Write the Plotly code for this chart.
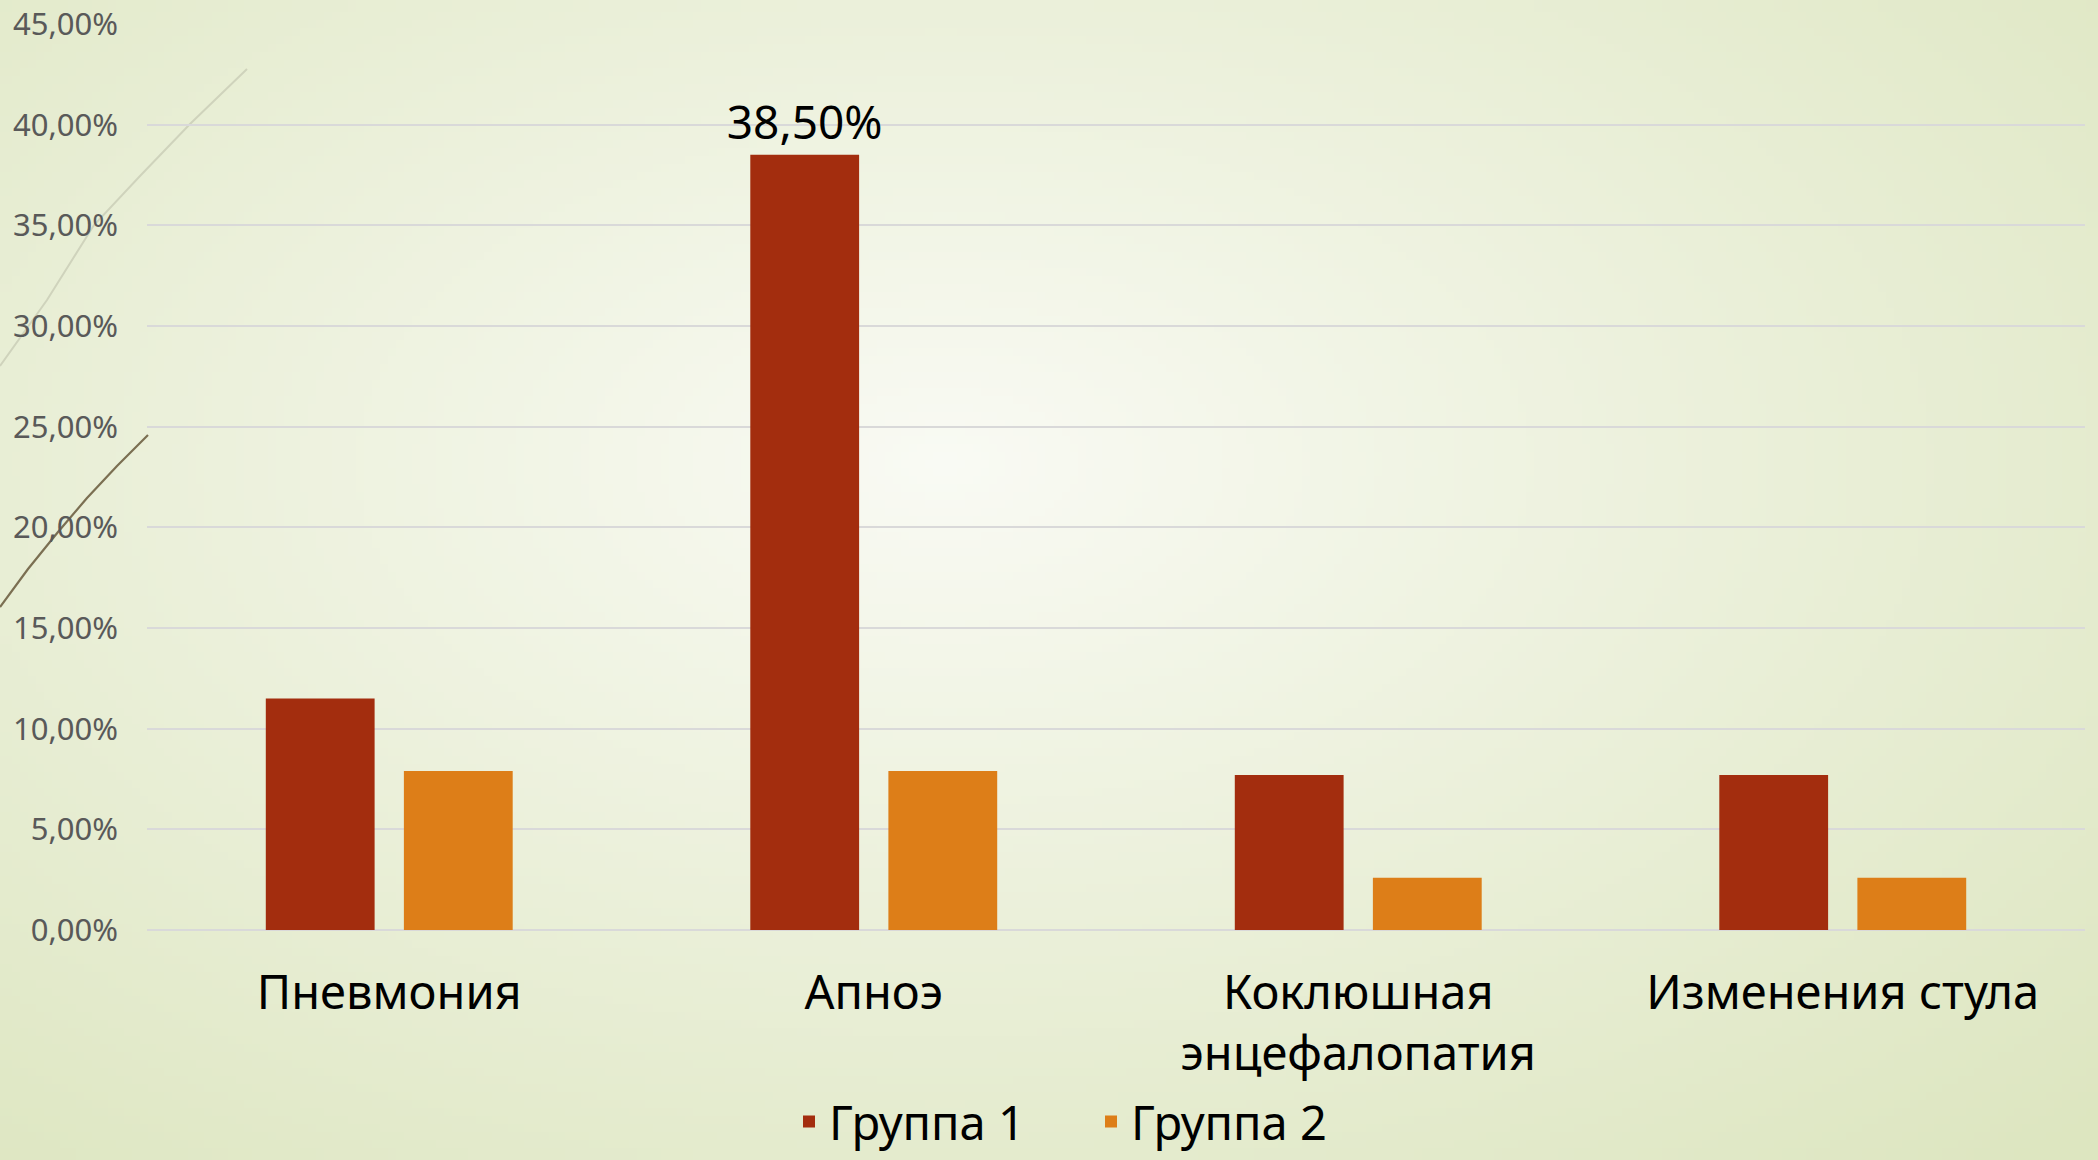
import base64
import struct
import zlib

import numpy as np
import plotly.graph_objects as go

# ---------------- data ----------------
categories = ["Пневмония", "Апноэ", "Коклюшная<br>энцефалопатия", "Изменения стула"]
group1_name = "Группа 1"
group2_name = "Группа 2"
group1 = [0.115, 0.385, 0.077, 0.077]
group2 = [0.079, 0.079, 0.026, 0.026]
label_flags = [False, True, False, False]   # which Group 1 bars carry a value label
y_ticks = [0, 0.05, 0.10, 0.15, 0.20, 0.25, 0.30, 0.35, 0.40, 0.45]

# ---------------- page geometry ----------------
W, H = 2098, 1160
L, R, T, B = 147, 13, 24, 230
PW, PH = W - L - R, H - T - B

RED = "#a32d0e"
ORANGE = "#dd7e18"
FONT = "Noto Sans"


# ---------------- radial background (style only) ----------------
def make_bg_png(w=262, h=145):
    xs = (np.arange(w) + 0.5) / w
    ys = (np.arange(h) + 0.5) / h
    X, Y = np.meshgrid(xs, ys)
    cx, cy = 0.45, 0.40
    d = np.sqrt(((X - cx) * 1.0) ** 2 + ((Y - cy) * 0.95) ** 2) / 0.78
    t = np.clip(d, 0, 1) ** 0.95
    c0 = np.array([250, 251, 245], dtype=float)
    c1 = np.array([221, 230, 192], dtype=float)
    img = c0[None, None, :] + (c1 - c0)[None, None, :] * t[..., None]
    img = np.clip(img, 0, 255).astype(np.uint8)
    raw = b"".join(b"\x00" + img[j].tobytes() for j in range(h))

    def chunk(tag, data):
        c = struct.pack(">I", len(data)) + tag + data
        return c + struct.pack(">I", zlib.crc32(tag + data) & 0xFFFFFFFF)

    png = b"\x89PNG\r\n\x1a\n"
    png += chunk(b"IHDR", struct.pack(">IIBBBBB", w, h, 8, 2, 0, 0, 0))
    png += chunk(b"IDAT", zlib.compress(raw, 9))
    png += chunk(b"IEND", b"")
    return "data:image/png;base64," + base64.b64encode(png).decode()


def px(xpix):
    return (xpix - L) / PW


def py(ypix):
    return (H - B - ypix) / PH


fig = go.Figure()
fig.add_trace(go.Bar(
    name=group1_name, x=categories, y=group1,
    marker=dict(color=RED, line=dict(width=0)),
    texttemplate="%{y:.2%}",
    textposition=["outside" if f else "none" for f in label_flags],
    textfont=dict(family=FONT, size=46, color="#000000"),
    constraintext="none",
    cliponaxis=False,
))
fig.add_trace(go.Bar(
    name=group2_name, x=categories, y=group2,
    marker=dict(color=ORANGE, line=dict(width=0)),
    textposition="none",
))

# decorative strokes on the left edge (page ornament)
light_pts = [(247, 69), (190, 124), (140, 176), (94, 225), (47, 300), (0, 366)]
dark_pts = [(148, 435), (117, 466), (87, 498), (58, 532), (28, 569), (0, 607)]


def path(pts):
    s = "M %f,%f" % (px(pts[0][0]), py(pts[0][1]))
    for x, y in pts[1:]:
        s += " L %f,%f" % (px(x), py(y))
    return s


shapes = [
    dict(type="path", xref="paper", yref="paper", path=path(light_pts),
         line=dict(color="#cfd3bc", width=2), layer="below"),
    dict(type="path", xref="paper", yref="paper", path=path(dark_pts),
         line=dict(color="#7b6f52", width=2.2), layer="below"),
]

fig.update_layout(
    width=W, height=H,
    margin=dict(l=L, r=R, t=T, b=B, pad=0, autoexpand=False),
    paper_bgcolor="#eef2e0",
    plot_bgcolor="rgba(0,0,0,0)",
    separators=", ",
    barmode="group",
    bargap=0.43,
    bargroupgap=0.212,
    font=dict(family=FONT, color="#000000"),
    showlegend=True,
    legend=dict(
        orientation="h", xref="paper", yref="container",
        x=px(789), xanchor="left", y=(H - 1122) / H, yanchor="middle",
        font=dict(family=FONT, size=47, color="#000000"),
        bgcolor="rgba(0,0,0,0)",
        entrywidth=257, entrywidthmode="pixels",
        itemclick=False, itemdoubleclick=False,
    ),
    xaxis=dict(
        showgrid=False, showline=False, zeroline=False, ticks="",
        tickfont=dict(family=FONT, size=47, color="#000000"),
        ticklabelstandoff=31, automargin=False,
    ),
    yaxis=dict(
        range=[0, 0.45], tickvals=y_ticks, tickformat=".2%",
        showgrid=True, gridcolor="#d9d9d9", gridwidth=2,
        zeroline=True, zerolinecolor="#d9d9d9", zerolinewidth=2,
        showline=False, ticks="",
        tickfont=dict(family=FONT, size=31, color="#595959"),
        ticklabelstandoff=28, automargin=False,
    ),
    images=[dict(
        source=make_bg_png(), xref="paper", yref="paper",
        x=px(0), y=py(0), sizex=W / PW, sizey=H / PH,
        xanchor="left", yanchor="top", sizing="stretch", layer="below",
    )],
    shapes=shapes,
)

fig.write_html(
    "out.html",
    config={"displayModeBar": False},
    post_script="document.body.style.margin='0';document.body.style.overflow='hidden';",
)
